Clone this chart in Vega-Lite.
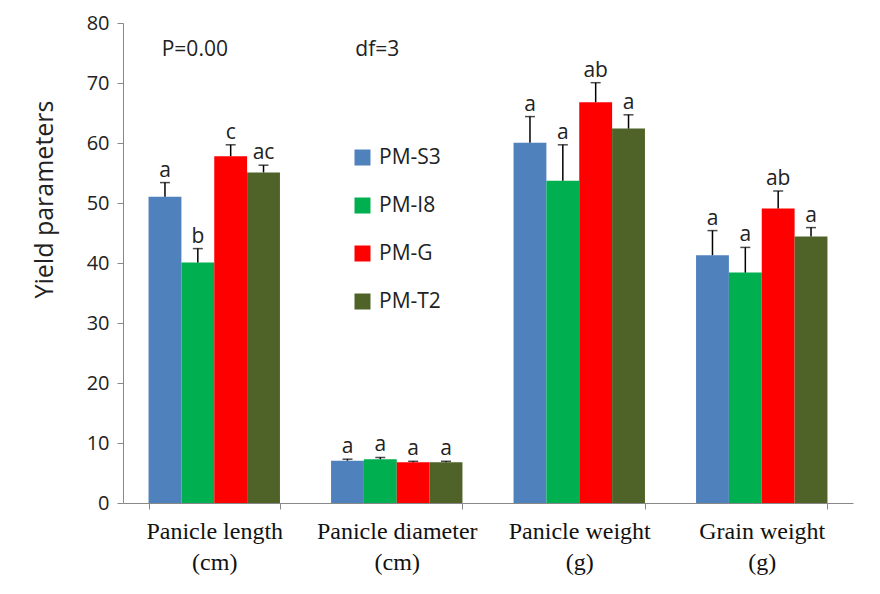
{
  "$schema": "https://vega.github.io/schema/vega-lite/v6.json",
  "width": 730,
  "height": 480,
  "autosize": {"type": "none"},
  "padding": {"left": 123, "top": 23, "right": 27, "bottom": 91},
  "background": "white",
  "config": {"view": {"stroke": null}, "font": "Open Sans"},
  "datasets": {
    "bars": [
      {"category": "Panicle length (cm)", "treatment": "PM-S3", "mean": 51.05, "top": 53.4, "letter": "a"},
      {"category": "Panicle length (cm)", "treatment": "PM-I8", "mean": 40.1, "top": 42.4, "letter": "b"},
      {"category": "Panicle length (cm)", "treatment": "PM-G", "mean": 57.8, "top": 59.7, "letter": "c"},
      {"category": "Panicle length (cm)", "treatment": "PM-T2", "mean": 55.1, "top": 56.3, "letter": "ac"},
      {"category": "Panicle diameter (cm)", "treatment": "PM-S3", "mean": 7.05, "top": 7.3, "letter": "a"},
      {"category": "Panicle diameter (cm)", "treatment": "PM-I8", "mean": 7.3, "top": 7.6, "letter": "a"},
      {"category": "Panicle diameter (cm)", "treatment": "PM-G", "mean": 6.8, "top": 6.95, "letter": "a"},
      {"category": "Panicle diameter (cm)", "treatment": "PM-T2", "mean": 6.8, "top": 6.95, "letter": "a"},
      {"category": "Panicle weight (g)", "treatment": "PM-S3", "mean": 60.05, "top": 64.4, "letter": "a"},
      {"category": "Panicle weight (g)", "treatment": "PM-I8", "mean": 53.7, "top": 59.7, "letter": "a"},
      {"category": "Panicle weight (g)", "treatment": "PM-G", "mean": 66.8, "top": 70.05, "letter": "ab"},
      {"category": "Panicle weight (g)", "treatment": "PM-T2", "mean": 62.4, "top": 64.7, "letter": "a"},
      {"category": "Grain weight (g)", "treatment": "PM-S3", "mean": 41.3, "top": 45.4, "letter": "a"},
      {"category": "Grain weight (g)", "treatment": "PM-I8", "mean": 38.4, "top": 42.6, "letter": "a"},
      {"category": "Grain weight (g)", "treatment": "PM-G", "mean": 49.1, "top": 52.0, "letter": "ab"},
      {"category": "Grain weight (g)", "treatment": "PM-T2", "mean": 44.4, "top": 45.9, "letter": "a"}
    ],
    "notes": [
      {"category": "Panicle length (cm)", "treatment": "PM-I8", "y": 75.5, "label": "P=0.00"},
      {"category": "Panicle diameter (cm)", "treatment": "PM-I8", "y": 75.5, "label": "df=3"}
    ]
  },
  "layer": [
    {
      "data": {"name": "bars"},
      "mark": {"type": "bar"},
      "encoding": {
        "x": {
          "field": "category", "type": "nominal", "sort": null,
          "scale": {"paddingInner": 0.28, "paddingOuter": 0.14},
          "axis": {
            "title": null, "labelAngle": 0, "tickBand": "extent",
            "domainColor": "#888888", "tickColor": "#888888", "tickSize": 6,
            "labelFont": "Liberation Serif", "labelFontSize": 24, "labelColor": "#111111",
            "labelPadding": 10, "labelLineHeight": 31, "labelBaseline": "top",
            "labelExpr": "isValid(datum.value) ? [split(datum.value, ' (')[0], '(' + split(datum.value, ' (')[1]] : ''"
          }
        },
        "xOffset": {"field": "treatment", "type": "nominal", "sort": ["PM-S3", "PM-I8", "PM-G", "PM-T2"], "scale": {"paddingInner": 0, "paddingOuter": 0}},
        "y": {
          "field": "mean", "type": "quantitative",
          "scale": {"domain": [0, 80], "nice": false},
          "axis": {
            "title": "Yield parameters", "titleFontSize": 25, "titleFontWeight": "normal", "titleColor": "#222222",
            "titlePadding": 29, "titleY": 176, "values": [0, 10, 20, 30, 40, 50, 60, 70, 80], "grid": false,
            "domainColor": "#888888", "tickColor": "#888888", "tickSize": 6,
            "labelFontSize": 20, "labelColor": "#222222", "labelPadding": 8
          }
        },
        "color": {
          "field": "treatment", "type": "nominal",
          "sort": ["PM-S3", "PM-I8", "PM-G", "PM-T2"],
          "scale": {"domain": ["PM-S3", "PM-I8", "PM-G", "PM-T2"], "range": ["#4F81BD", "#00B050", "#FF0000", "#4F6228"]},
          "legend": {
            "title": null, "orient": "none", "legendX": 229, "legendY": 124,
            "symbolType": "square", "symbolSize": 256, "symbolStrokeWidth": 0,
            "labelFontSize": 21, "labelColor": "#222222", "rowPadding": 26, "labelOffset": 6
          }
        }
      }
    },
    {
      "data": {"name": "bars"},
      "mark": {"type": "rule", "color": "black", "strokeWidth": 1.5},
      "encoding": {
        "x": {"field": "category", "type": "nominal", "sort": null},
        "xOffset": {"field": "treatment", "type": "nominal", "sort": ["PM-S3", "PM-I8", "PM-G", "PM-T2"]},
        "y": {"field": "mean", "type": "quantitative"},
        "y2": {"field": "top"}
      }
    },
    {
      "data": {"name": "bars"},
      "mark": {"type": "tick", "color": "black", "thickness": 1.5, "size": 10},
      "encoding": {
        "x": {"field": "category", "type": "nominal", "sort": null},
        "xOffset": {"field": "treatment", "type": "nominal", "sort": ["PM-S3", "PM-I8", "PM-G", "PM-T2"]},
        "y": {"field": "top", "type": "quantitative"}
      }
    },
    {
      "data": {"name": "bars"},
      "mark": {"type": "text", "baseline": "bottom", "dy": -2, "fontSize": 21, "color": "#222222"},
      "encoding": {
        "x": {"field": "category", "type": "nominal", "sort": null},
        "xOffset": {"field": "treatment", "type": "nominal", "sort": ["PM-S3", "PM-I8", "PM-G", "PM-T2"]},
        "y": {"field": "top", "type": "quantitative"},
        "text": {"field": "letter"}
      }
    },
    {
      "data": {"name": "notes"},
      "mark": {"type": "text", "fontSize": 21, "color": "#222222", "baseline": "middle", "dx": -3},
      "encoding": {
        "x": {"field": "category", "type": "nominal", "sort": null},
        "xOffset": {"field": "treatment", "type": "nominal", "sort": ["PM-S3", "PM-I8", "PM-G", "PM-T2"]},
        "y": {"field": "y", "type": "quantitative"},
        "text": {"field": "label"}
      }
    }
  ]
}
